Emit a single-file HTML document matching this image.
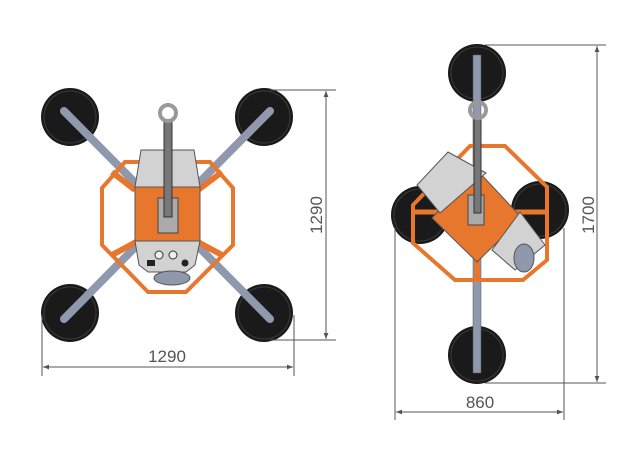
<!DOCTYPE html>
<html><head><meta charset="utf-8"><style>
html,body{margin:0;padding:0;background:#fff;width:624px;height:461px;overflow:hidden}
svg{display:block}
text{font-family:"Liberation Sans",sans-serif;fill:#555;font-size:17px}
</style></head><body>
<svg width="624" height="461" viewBox="0 0 624 461">
<defs>
<marker id="a" viewBox="0 0 10 10" refX="10" refY="5" markerWidth="8" markerHeight="6" orient="auto-start-reverse"><path d="M0,1 L10,5 L0,9 z" fill="#555"/></marker>
<g id="pad"><circle r="29" fill="#1a1a1a"/><circle r="26" fill="none" stroke="#3a3a3a" stroke-width="1"/></g>
</defs>
<!-- LEFT -->
<use href="#pad" x="70" y="117"/><use href="#pad" x="264" y="117"/><use href="#pad" x="70" y="313"/><use href="#pad" x="264" y="313"/>
<g stroke="#8f98ad" stroke-width="8" stroke-linecap="round">
<line x1="64" y1="111" x2="270" y2="319"/><line x1="270" y1="111" x2="64" y2="319"/>
</g>
<polygon points="125,162 102,188 102,245 148,292 186,292 233,245 233,188 210,162" fill="none" stroke="#e8772e" stroke-width="4"/>
<line x1="112" y1="172" x2="135" y2="190" stroke="#e8772e" stroke-width="6"/><line x1="222" y1="172" x2="198" y2="190" stroke="#e8772e" stroke-width="6"/>
<line x1="112" y1="255" x2="138" y2="241" stroke="#e8772e" stroke-width="6"/><line x1="222" y1="255" x2="196" y2="241" stroke="#e8772e" stroke-width="6"/>
<polygon points="141,150 194,150 200,187 135,187" fill="#d2d2d2" stroke="#555" stroke-width="1"/>
<rect x="135" y="187" width="65" height="54" fill="#e8772e" stroke="#555" stroke-width="1"/>
<polygon points="135,241 200,241 195,265 186,272 148,272 139,265" fill="#d2d2d2" stroke="#555" stroke-width="1"/>
<ellipse cx="172" cy="278" rx="18" ry="7" fill="#8f98ad" stroke="#555"/>
<circle cx="159" cy="255" r="4" fill="#eee" stroke="#333"/><circle cx="173" cy="255" r="4" fill="#eee" stroke="#333"/>
<rect x="147" y="260" width="8" height="6" fill="#222"/><circle cx="185" cy="263" r="3.5" fill="#222"/>
<rect x="158" y="198" width="20" height="35" fill="#aaa" stroke="#444"/>
<rect x="164" y="122" width="8" height="95" fill="#777" stroke="#333"/>
<circle cx="168" cy="113" r="8" fill="none" stroke="#999" stroke-width="4"/>
<g stroke="#555" stroke-width="1" fill="none">
<line x1="270" y1="90" x2="336" y2="90"/><line x1="270" y1="340" x2="336" y2="340"/>
<line x1="326" y1="91" x2="326" y2="339" marker-start="url(#a)" marker-end="url(#a)"/>
<line x1="42" y1="315" x2="42" y2="376"/><line x1="294" y1="315" x2="294" y2="376"/>
<line x1="43" y1="367" x2="293" y2="367" marker-start="url(#a)" marker-end="url(#a)"/>
</g>
<text x="167" y="362" text-anchor="middle">1290</text>
<text transform="translate(322,215) rotate(-90)" text-anchor="middle">1290</text>
<!-- RIGHT -->
<use href="#pad" x="420" y="215"/><use href="#pad" x="540" y="210"/>
<use href="#pad" x="477" y="73"/><use href="#pad" x="477" y="355"/>
<rect x="473" y="55" width="8" height="318" fill="#8f98ad" stroke="#555" stroke-width="0.5"/>
<polygon points="470,146 505,146 547,187 547,260 523,280 455,280 413,243 413,205" fill="none" stroke="#e8772e" stroke-width="4"/>
<line x1="413" y1="212" x2="545" y2="212" stroke="#e8772e" stroke-width="5"/>
<line x1="477" y1="260" x2="477" y2="280" stroke="#e8772e" stroke-width="6"/>
<polygon points="477,170 522,218 477,262 432,218" fill="#e8772e" stroke="#555"/>
<polygon points="448,152 486,173 440,213 417,185" fill="#d2d2d2" stroke="#555"/>
<polygon points="520,212 545,245 515,270 492,250" fill="#d2d2d2" stroke="#555"/>
<ellipse cx="524" cy="258" rx="10" ry="14" fill="#8f98ad" stroke="#555"/>
<rect x="468" y="195" width="16" height="30" fill="#aaa" stroke="#444"/>
<rect x="474" y="118" width="7" height="95" fill="#777" stroke="#333"/>
<circle cx="478" cy="110" r="8" fill="none" stroke="#999" stroke-width="4"/>
<g stroke="#555" stroke-width="1" fill="none">
<line x1="485" y1="45" x2="606" y2="45"/><line x1="485" y1="383" x2="606" y2="383"/>
<line x1="597" y1="46" x2="597" y2="382" marker-start="url(#a)" marker-end="url(#a)"/>
<line x1="395" y1="228" x2="395" y2="420"/><line x1="564" y1="228" x2="564" y2="420"/>
<line x1="396" y1="412" x2="563" y2="412" marker-start="url(#a)" marker-end="url(#a)"/>
</g>
<text x="480" y="408" text-anchor="middle">860</text>
<text transform="translate(594,215) rotate(-90)" text-anchor="middle">1700</text>
</svg>
</body></html>
